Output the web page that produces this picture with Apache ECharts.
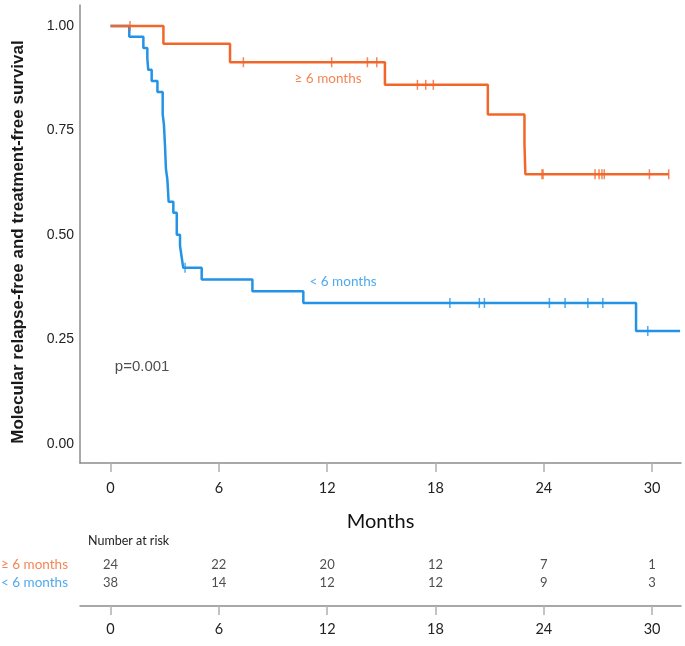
<!DOCTYPE html>
<html><head><meta charset="utf-8">
<script src="https://cdn.jsdelivr.net/npm/echarts@6/dist/echarts.min.js"></script>
<style>html,body{margin:0;padding:0;background:#fff}#c{width:685px;height:646px}</style>
</head><body><div id="c"></div>
<script>
// ≥ 6 months group: event times (months) and survival after each step
const longTimes = [0, 2.93, 6.62, 15.2, 20.9, 22.93, 22.98, 30.92];
const longSurv  = [1.0, 0.957, 0.913, 0.859, 0.788, 0.716, 0.645, 0.645];
const longCensorTimes = [1.08, 7.36, 12.25, 14.23, 14.75, 17.0, 17.46, 17.88, 23.9, 23.96, 26.84, 27.06, 27.22, 27.35, 29.85, 30.92];
const longCensorSurv  = [1.0, 0.913, 0.913, 0.913, 0.913, 0.859, 0.859, 0.859, 0.645, 0.645, 0.645, 0.645, 0.645, 0.645, 0.645, 0.645];

// < 6 months group
const shortTimes = [0, 1.04, 1.82, 2.04, 2.09, 2.28, 2.6, 2.89, 2.96, 3.02, 3.07, 3.15, 3.22, 3.48, 3.67, 3.85, 3.94, 4.03, 5.05, 7.86, 10.68, 29.11, 31.55];
const shortSurv  = [1.0, 0.974, 0.947, 0.921, 0.895, 0.868, 0.842, 0.789, 0.763, 0.711, 0.658, 0.632, 0.579, 0.553, 0.500, 0.474, 0.447, 0.421, 0.393, 0.365, 0.337, 0.270, 0.270];
const shortCensorTimes = [4.13, 18.8, 20.43, 20.71, 24.31, 25.18, 26.44, 27.27, 29.76];
const shortCensorSurv  = [0.421, 0.337, 0.337, 0.337, 0.337, 0.337, 0.337, 0.337, 0.270];

// Number at risk table
const riskTimes = [0, 6, 12, 18, 24, 30];
const riskLong  = [24, 22, 20, 12, 7, 1];
const riskShort = [38, 14, 12, 12, 9, 3];

const xTicks = [0, 6, 12, 18, 24, 30];
const yTicks = [0, 0.25, 0.5, 0.75, 1.0];
const groupNames = ['≥ 6 months', '< 6 months'];

const ORANGE = '#F3662A';
const BLUE = '#2393E8';
const AXIS = '#8c8c8c';

const XMIN = -1.69, XMAX = 31.6;

const chart = echarts.init(document.getElementById('c'), null, {renderer: 'canvas'});
const zip = (a, b) => a.map((v, i) => [v, b[i]]);

chart.setOption({
  animation: false,
  backgroundColor: '#fff',
  grid: [
    {left: 80, right: 4, top: 5, bottom: 183},
    {left: 80, right: 4, top: 556, height: 50}
  ],
  xAxis: [
    {
      gridIndex: 0, type: 'value', min: XMIN, max: XMAX,
      name: 'Months', nameLocation: 'middle', nameGap: 49,
      nameTextStyle: {fontSize: 20, color: '#111', fontFamily: 'Lato'},
      axisLine: {onZero: false, lineStyle: {color: AXIS, width: 1.5}},
      axisTick: {show: true, customValues: xTicks, length: 9, lineStyle: {color: '#b0b0b0', width: 1.5}},
      axisLabel: {customValues: xTicks, margin: 18, fontSize: 14.5, color: '#222', fontFamily: 'Lato'},
      splitLine: {show: false}
    },
    {
      gridIndex: 1, type: 'value', min: XMIN, max: XMAX, position: 'bottom',
      axisLine: {onZero: false, lineStyle: {color: AXIS, width: 1.5}},
      axisTick: {show: true, customValues: xTicks, length: 9, lineStyle: {color: '#b0b0b0', width: 1.5}},
      axisLabel: {customValues: xTicks, margin: 16, fontSize: 14.5, color: '#222', fontFamily: 'Lato'},
      splitLine: {show: false}
    }
  ],
  yAxis: [
    {
      gridIndex: 0, type: 'value', min: -0.046, max: 1.05,
      axisLine: {show: true, onZero: false, lineStyle: {color: AXIS, width: 1.5}},
      axisTick: {show: false},
      axisLabel: {customValues: yTicks, formatter: v => v.toFixed(2), margin: 6, fontSize: 14, color: '#222', fontFamily: 'Liberation Sans'},
      splitLine: {show: false}
    },
    {
      gridIndex: 1, type: 'value', min: 0, max: 50, inverse: true, show: false
    }
  ],
  series: [
    {
      type: 'line', xAxisIndex: 0, yAxisIndex: 0, step: 'end', symbol: 'none',
      data: zip(shortTimes, shortSurv), lineStyle: {color: BLUE, width: 2.5}, z: 2
    },
    {
      type: 'scatter', xAxisIndex: 0, yAxisIndex: 0, symbol: 'rect', symbolSize: [1.5, 10],
      data: zip(shortCensorTimes, shortCensorSurv), itemStyle: {color: BLUE}, z: 2
    },
    {
      type: 'line', xAxisIndex: 0, yAxisIndex: 0, step: 'end', symbol: 'none',
      data: zip(longTimes, longSurv), lineStyle: {color: ORANGE, width: 2.5}, z: 3
    },
    {
      type: 'scatter', xAxisIndex: 0, yAxisIndex: 0, symbol: 'rect', symbolSize: [1.5, 10],
      data: zip(longCensorTimes, longCensorSurv), itemStyle: {color: ORANGE}, z: 3
    },
    // curve labels and p value
    {
      type: 'scatter', xAxisIndex: 0, yAxisIndex: 0, symbolSize: 0, silent: true,
      data: [
        {value: [12.05, 0.874], label: {formatter: groupNames[0], color: ORANGE}},
        {value: [12.88, 0.388], label: {formatter: groupNames[1], color: BLUE}},
        {value: [1.75, 0.184], label: {formatter: 'p=0.001', color: '#222', fontFamily: 'Liberation Sans', fontSize: 15}}
      ],
      label: {show: true, position: 'inside', fontSize: 13.5, fontFamily: 'Lato'}
    },
    // risk table
    {
      type: 'scatter', xAxisIndex: 1, yAxisIndex: 1, symbolSize: 0, silent: true,
      data: riskTimes.map((t, i) => [t, 9, riskLong[i]]),
      label: {show: true, position: 'inside', formatter: p => String(p.value[2]), fontSize: 13, color: '#222', fontFamily: 'Lato'}
    },
    {
      type: 'scatter', xAxisIndex: 1, yAxisIndex: 1, symbolSize: 0, silent: true,
      data: riskTimes.map((t, i) => [t, 27, riskShort[i]]),
      label: {show: true, position: 'inside', formatter: p => String(p.value[2]), fontSize: 13, color: '#222', fontFamily: 'Lato'}
    },
    {
      type: 'scatter', xAxisIndex: 1, yAxisIndex: 1, symbolSize: 0, silent: true,
      data: [
        {value: [XMIN, 9], label: {formatter: groupNames[0], color: ORANGE}},
        {value: [XMIN, 27], label: {formatter: groupNames[1], color: BLUE}}
      ],
      label: {show: true, position: 'left', distance: 12, fontSize: 13.5, fontFamily: 'Lato'}
    }
  ],
  graphic: [
    {
      type: 'text', x: 18, y: 242, rotation: Math.PI / 2,
      style: {text: 'Molecular relapse-free and treatment-free survival', fontSize: 17, fontWeight: 'bold', fontFamily: 'Liberation Sans', fill: '#1a1a1a', align: 'center', verticalAlign: 'middle'}
    },
    {
      type: 'text', x: 88, y: 541,
      style: {text: 'Number at risk', fontSize: 12.5, fontFamily: 'Lato', fill: '#222', align: 'left', verticalAlign: 'middle'}
    }
  ]
});
</script>
</body></html>
